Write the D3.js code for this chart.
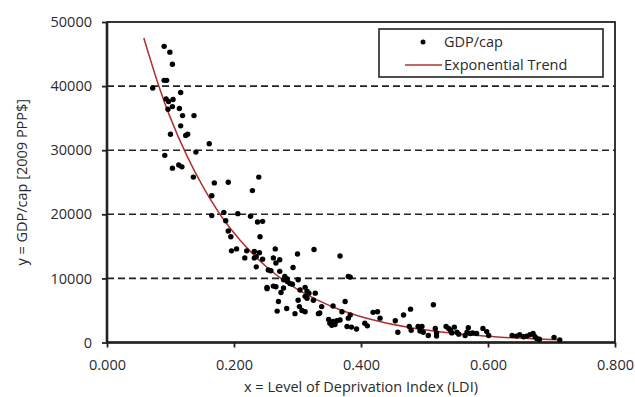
<!DOCTYPE html>
<html>
<head>
<meta charset="utf-8">
<script src="https://cdn.jsdelivr.net/npm/d3@7"></script>
<style>
  html, body { margin: 0; padding: 0; background: #fff; }
  svg text { font-family: "Open Sans", "Liberation Sans", sans-serif; fill: #2a2a2a; }
</style>
</head>
<body>
<svg id="svg" width="635" height="397"></svg>
<script>
// LDI (x) of each country
const ldi = [
  0.090, 0.099, 0.103, 0.090, 0.094, 0.072, 0.116, 0.093, 0.097, 0.104,
  0.096, 0.103, 0.114, 0.119, 0.137, 0.116, 0.100, 0.124, 0.127, 0.161,
  0.140, 0.091, 0.113, 0.118, 0.103, 0.136, 0.169, 0.191, 0.239, 0.229,
  0.165, 0.165, 0.184, 0.206, 0.226, 0.187, 0.237, 0.245, 0.191, 0.195,
  0.241, 0.196, 0.204, 0.220, 0.232, 0.240, 0.217, 0.232, 0.235, 0.245,
  0.235, 0.254, 0.252, 0.265, 0.262, 0.266, 0.272, 0.300, 0.326, 0.367,
  0.293, 0.258, 0.272, 0.280, 0.284, 0.278, 0.284, 0.288, 0.292, 0.301,
  0.380, 0.383, 0.252, 0.262, 0.266, 0.274, 0.278, 0.304, 0.312, 0.315,
  0.318, 0.312, 0.315, 0.325, 0.301, 0.270, 0.268, 0.283, 0.296, 0.303,
  0.307, 0.312, 0.338, 0.335, 0.356, 0.375, 0.370, 0.383, 0.380, 0.349,
  0.351, 0.356, 0.362, 0.367, 0.354, 0.359, 0.378, 0.385, 0.393, 0.406,
  0.410, 0.419, 0.426, 0.430, 0.328, 0.333, 0.454, 0.458, 0.467, 0.478,
  0.476, 0.479, 0.490, 0.496, 0.493, 0.498, 0.506, 0.514, 0.517, 0.519,
  0.519, 0.534, 0.538, 0.541, 0.543, 0.547, 0.551, 0.554, 0.564, 0.567,
  0.569, 0.572, 0.576, 0.582, 0.592, 0.598, 0.601, 0.638, 0.645, 0.650,
  0.656, 0.661, 0.666, 0.671, 0.674, 0.677, 0.681, 0.704, 0.713
];

// GDP per capita (y) of each country
const gdp = [
  46200, 45300, 43400, 40900, 40900, 39700, 39000, 38000, 37600, 37900,
  36400, 36800, 36500, 35400, 35400, 33800, 32500, 32300, 32500, 31000,
  29700, 29200, 27700, 27400, 27200, 25800, 24900, 25000, 25800, 23700,
  22900, 19800, 20300, 20100, 19700, 19000, 18800, 18900, 17400, 16500,
  16500, 14300, 14600, 14300, 14200, 14000, 13200, 13200, 13400, 13000,
  11800, 11300, 8600, 14600, 13200, 12400, 12900, 13800, 14500, 13500,
  11700, 11200, 11100, 10300, 9900, 9800, 9500, 9200, 9100, 9800,
  10300, 10200, 8400, 8800, 8700, 7800, 8500, 8200, 8600, 8000,
  7700, 7200, 6900, 6600, 6600, 6400, 4900, 5300, 4500, 5600,
  5000, 4800, 5600, 4600, 5700, 6400, 4800, 4300, 3800, 3600,
  3000, 3300, 3400, 3500, 2700, 2800, 2500, 2400, 2100, 3000,
  2600, 4700, 4800, 3800, 7700, 4500, 3400, 1600, 4300, 5200,
  2500, 1900, 2500, 2500, 1800, 1600, 1100, 5900, 2200, 1500,
  1000, 2500, 2200, 1900, 1500, 2400, 1600, 1300, 1100, 1600,
  2300, 1400, 1500, 1400, 2200, 1700, 1100, 1100, 1000, 1200,
  900, 1000, 1200, 1400, 900, 600, 500, 800, 400
];

// exponential trend line
const trendX = [0.058, 0.08, 0.10, 0.125, 0.15, 0.18, 0.21, 0.25, 0.29, 0.33,
                0.37, 0.42, 0.47, 0.52, 0.57, 0.62, 0.67, 0.713];
const trendY = [47500, 40500, 35000, 29300, 24500, 19700, 15900, 11900, 8900, 6700,
                5000, 3500, 2440, 1700, 1190, 830, 580, 420];

const xTicks = [0, 0.2, 0.4, 0.6, 0.8];
const yTicks = [0, 10000, 20000, 30000, 40000, 50000];
const gridTicks = [10000, 20000, 30000, 40000];

const plotL = 107, plotR = 615, plotT = 22, plotB = 342.5;

const svg = d3.select('#svg');

const x = d3.scaleLinear().domain([0, 0.8]).range([plotL, plotR]);
const y = d3.scaleLinear().domain([0, 50000]).range([plotB, plotT]);

// dashed grid
svg.append('g')
  .selectAll('line')
  .data(gridTicks)
  .enter()
  .append('line')
  .attr('x1', plotL).attr('x2', plotR)
  .attr('y1', d => y(d)).attr('y2', d => y(d))
  .attr('stroke', '#222')
  .attr('stroke-width', 1.6)
  .attr('stroke-dasharray', '7,4');

// axes
const yAxis = svg.append('g')
  .attr('transform', 'translate(' + plotL + ',0)')
  .call(d3.axisLeft(y).tickValues(yTicks).tickFormat(d3.format('d')).tickSize(5).tickPadding(10));

const xAxis = svg.append('g')
  .attr('transform', 'translate(0,' + plotB + ')')
  .call(d3.axisBottom(x).tickValues(xTicks).tickFormat(d3.format('.3f')).tickSize(5).tickPadding(12.5));

[yAxis, xAxis].forEach(function (g) {
  g.select('.domain').remove();
  g.selectAll('.tick line').attr('stroke', '#222').attr('stroke-width', 1.8);
  g.selectAll('.tick text').style('font-size', '14.5px').attr('fill', '#2a2a2a');
});

// frame
svg.append('rect')
  .attr('x', plotL).attr('y', plotT)
  .attr('width', plotR - plotL).attr('height', plotB - plotT)
  .attr('fill', 'none')
  .attr('stroke', '#222')
  .attr('stroke-width', 1.8);

svg.append('line')
  .attr('x1', plotL).attr('x2', plotL).attr('y1', plotT).attr('y2', plotB)
  .attr('stroke', '#222').attr('stroke-width', 2.6);
svg.append('line')
  .attr('x1', plotL).attr('x2', plotR).attr('y1', plotB).attr('y2', plotB)
  .attr('stroke', '#222').attr('stroke-width', 2.6);

// trend
const line = d3.line()
  .x(d => x(d[0]))
  .y(d => y(d[1]))
  .curve(d3.curveCatmullRom);

svg.append('path')
  .datum(d3.zip(trendX, trendY))
  .attr('d', line)
  .attr('fill', 'none')
  .attr('stroke', '#b03030')
  .attr('stroke-width', 1.5);

// points
svg.append('g')
  .selectAll('circle')
  .data(d3.zip(ldi, gdp))
  .enter()
  .append('circle')
  .attr('cx', d => x(d[0]))
  .attr('cy', d => y(d[1]))
  .attr('r', 2.7)
  .attr('fill', '#000');

// axis titles
svg.append('text')
  .attr('x', (plotL + plotR) / 2)
  .attr('y', 392)
  .attr('text-anchor', 'middle')
  .style('font-size', '14.5px')
  .text('x = Level of Deprivation Index (LDI)');

svg.append('text')
  .attr('transform', 'translate(27,' + ((plotT + plotB) / 2) + ') rotate(-90)')
  .attr('text-anchor', 'middle')
  .style('font-size', '14.5px')
  .text('y = GDP/cap [2009 PPP$]');

// legend
const legend = svg.append('g');
legend.append('rect')
  .attr('x', 379).attr('y', 29)
  .attr('width', 224).attr('height', 48)
  .attr('fill', '#fff')
  .attr('stroke', '#222')
  .attr('stroke-width', 1.6);
legend.append('circle')
  .attr('cx', 423).attr('cy', 42).attr('r', 2.5).attr('fill', '#000');
legend.append('line')
  .attr('x1', 405).attr('x2', 442).attr('y1', 65).attr('y2', 65)
  .attr('stroke', '#b03030').attr('stroke-width', 1.5);
legend.append('text')
  .attr('x', 444).attr('y', 42).attr('dy', '0.35em')
  .style('font-size', '14.5px')
  .text('GDP/cap');
legend.append('text')
  .attr('x', 444).attr('y', 65).attr('dy', '0.35em')
  .style('font-size', '14.5px')
  .text('Exponential Trend');
</script>
</body>
</html>
